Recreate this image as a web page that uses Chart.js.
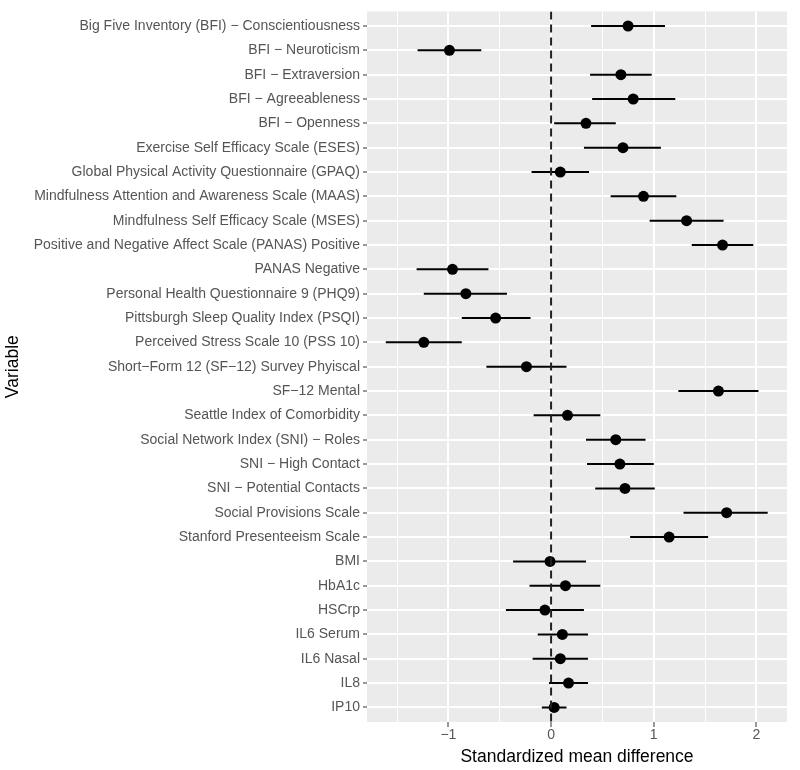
<!DOCTYPE html>
<html>
<head>
<meta charset="utf-8">
<script src="https://cdn.jsdelivr.net/npm/chart.js@4"></script>
<style>
  html, body { margin: 0; padding: 0; background: #fff; }
  #wrap { width: 800px; height: 770px; }
</style>
</head>
<body>
<div id="wrap"><canvas id="forest"></canvas></div>
<script>
// Variables, top to bottom
const variables = [
    'Big Five Inventory (BFI) \u2212 Conscientiousness',
    'BFI \u2212 Neuroticism',
    'BFI \u2212 Extraversion',
    'BFI \u2212 Agreeableness',
    'BFI \u2212 Openness',
    'Exercise Self Efficacy Scale (ESES)',
    'Global Physical Activity Questionnaire (GPAQ)',
    'Mindfulness Attention and Awareness Scale (MAAS)',
    'Mindfulness Self Efficacy Scale (MSES)',
    'Positive and Negative Affect Scale (PANAS) Positive',
    'PANAS Negative',
    'Personal Health Questionnaire 9 (PHQ9)',
    'Pittsburgh Sleep Quality Index (PSQI)',
    'Perceived Stress Scale 10 (PSS 10)',
    'Short\u2212Form 12 (SF\u221212) Survey Phyiscal',
    'SF\u221212 Mental',
    'Seattle Index of Comorbidity',
    'Social Network Index (SNI) \u2212 Roles',
    'SNI \u2212 High Contact',
    'SNI \u2212 Potential Contacts',
    'Social Provisions Scale',
    'Stanford Presenteeism Scale',
    'BMI',
    'HbA1c',
    'HSCrp',
    'IL6 Serum',
    'IL6 Nasal',
    'IL8',
    'IP10'
];

// Standardized mean difference and its interval
const smd = [0.75, -0.99, 0.68, 0.80, 0.34, 0.70, 0.09, 0.90, 1.32, 1.67,
             -0.96, -0.83, -0.54, -1.24, -0.24, 1.63, 0.16, 0.63, 0.67, 0.72,
             1.71, 1.15, -0.01, 0.14, -0.06, 0.11, 0.09, 0.17, 0.03];
const lower = [0.39, -1.30, 0.38, 0.40, 0.03, 0.32, -0.19, 0.58, 0.96, 1.37,
               -1.31, -1.24, -0.87, -1.61, -0.63, 1.24, -0.17, 0.34, 0.35, 0.43,
               1.29, 0.77, -0.37, -0.21, -0.44, -0.13, -0.18, -0.02, -0.09];
const upper = [1.11, -0.68, 0.98, 1.21, 0.63, 1.07, 0.37, 1.22, 1.68, 1.97,
               -0.61, -0.43, -0.20, -0.87, 0.15, 2.02, 0.48, 0.92, 1.00, 1.01,
               2.11, 1.53, 0.34, 0.48, 0.32, 0.36, 0.36, 0.36, 0.15];

const xTicks = [-1.5, -1, -0.5, 0, 0.5, 1, 1.5, 2];
const xMin = -1.793, xMax = 2.298;

const tickGray = '#555555';
const fontFamily = '"Liberation Sans", Arial, sans-serif';

document.addEventListener('DOMContentLoaded', () => {
    // interval segments, broken by nulls
    const ciData = [];
    variables.forEach((v, i) => {
        ciData.push({ x: lower[i], y: i });
        ciData.push({ x: upper[i], y: i });
        ciData.push({ x: null, y: null });
    });
    const pointData = smd.map((v, i) => ({ x: v, y: i }));

    // grey panel behind everything
    const panelBg = {
        id: 'panelBg',
        beforeDraw(chart) {
            const { ctx, chartArea: a } = chart;
            ctx.save();
            ctx.fillStyle = '#ebebeb';
            ctx.fillRect(a.left, a.top, a.right - a.left, a.bottom - a.top);
            ctx.restore();
        }
    };

    const ctx = document.getElementById('forest').getContext('2d');
    new Chart(ctx, {
        type: 'scatter',
        data: {
            datasets: [
                {
                    data: [{ x: 0, y: -0.6 }, { x: 0, y: variables.length - 0.4 }],
                    showLine: true,
                    borderColor: '#222',
                    borderWidth: 2,
                    borderDash: [8, 5],
                    pointRadius: 0
                },
                {
                    data: ciData,
                    showLine: true,
                    spanGaps: false,
                    borderColor: '#000',
                    borderWidth: 2,
                    pointRadius: 0
                },
                {
                    data: pointData,
                    backgroundColor: '#000',
                    borderColor: '#000',
                    pointRadius: 5.5,
                    borderWidth: 0
                }
            ]
        },
        options: {
            responsive: true,
            maintainAspectRatio: false,
            animation: false,
            layout: { padding: { top: 11, right: 13, bottom: 0, left: 0 } },
            plugins: {
                legend: { display: false },
                tooltip: { enabled: false }
            },
            scales: {
                x: {
                    type: 'linear',
                    min: xMin,
                    max: xMax,
                    afterBuildTicks: s => { s.ticks = xTicks.map(v => ({ value: v })); },
                    afterFit: s => { s.height = 48; },
                    border: { display: false },
                    grid: {
                        color: '#ffffff',
                        lineWidth: c => Number.isInteger(c.tick.value) ? 2 : 1,
                        tickColor: c => Number.isInteger(c.tick.value) ? '#333333' : 'rgba(0,0,0,0)',
                        tickLength: 5,
                        tickWidth: 1
                    },
                    ticks: {
                        color: tickGray,
                        font: { family: fontFamily, size: 14 },
                        padding: 0,
                        maxRotation: 0,
                        autoSkip: false,
                        callback: v => Number.isInteger(v) ? String(v).replace('-', '\u2212') : ''
                    },
                    title: {
                        display: true,
                        text: 'Standardized mean difference',
                        color: '#000',
                        font: { family: fontFamily, size: 17.5 },
                        padding: { top: 0, bottom: 2 }
                    }
                },
                y: {
                    type: 'linear',
                    reverse: true,
                    min: -0.6,
                    max: variables.length - 0.4,
                    afterBuildTicks: s => { s.ticks = variables.map((v, i) => ({ value: i })); },
                    afterFit: s => { s.width = 367; },
                    border: { display: false },
                    grid: {
                        color: '#ffffff',
                        lineWidth: 2,
                        tickColor: '#333333',
                        tickLength: 4,
                        tickWidth: 1
                    },
                    ticks: {
                        color: tickGray,
                        font: { family: fontFamily, size: 14 },
                        padding: 3,
                        autoSkip: false,
                        callback: v => variables[v]
                    },
                    title: {
                        display: true,
                        text: 'Variable',
                        color: '#000',
                        font: { family: fontFamily, size: 17.5 },
                        padding: { top: 3, bottom: 4 }
                    }
                }
            }
        },
        plugins: [panelBg]
    });
});
</script>
</body>
</html>
